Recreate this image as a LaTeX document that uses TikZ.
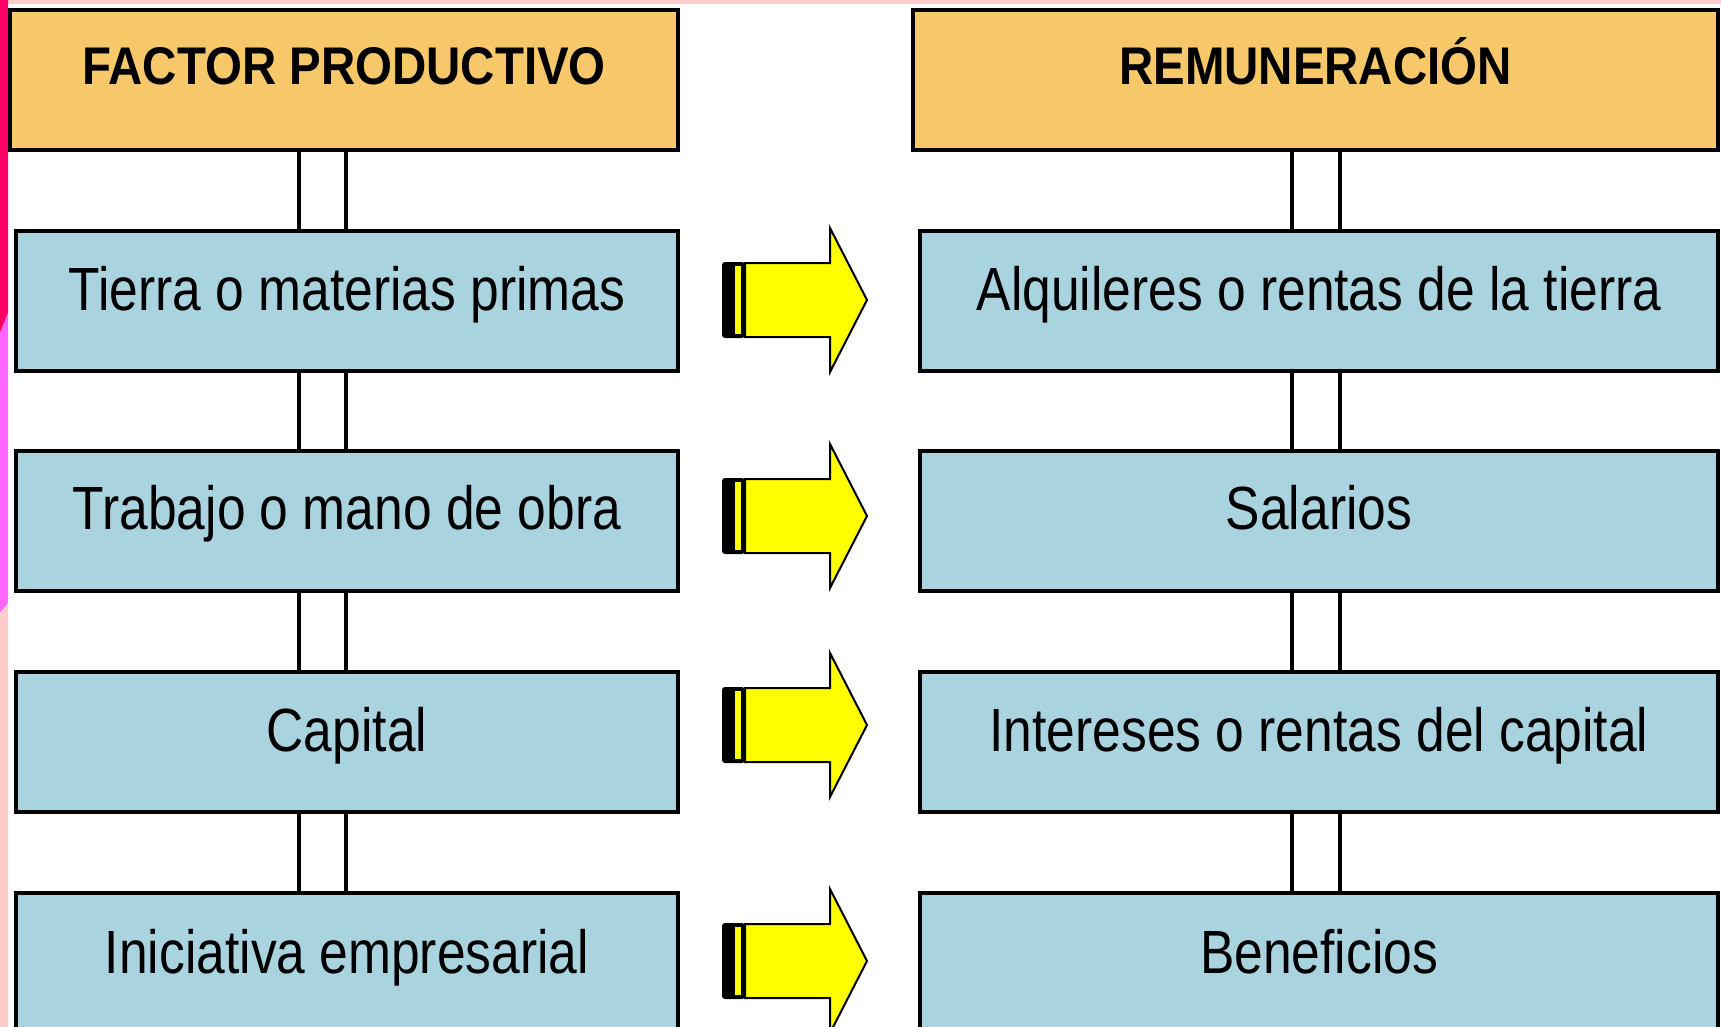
\documentclass[tikz,border=0pt]{standalone}
\usepackage{fontspec}
\setmainfont{Liberation Sans}[FakeStretch=0.845]
\newfontfamily\headfont{Liberation Sans}[FakeStretch=0.895]

\definecolor{headorange}{HTML}{F7C86A}
\definecolor{boxblue}{HTML}{AAD3E0}
\definecolor{deeppink}{HTML}{FF0066}
\definecolor{violetpink}{HTML}{FF66FF}
\definecolor{palepink}{HTML}{FFCCCC}
\definecolor{arrowyellow}{HTML}{FFFF00}

\tikzset{
  head/.style={draw,line width=4pt,fill=headorange,minimum height=140,
    text height=25,text depth=15,font=\headfont\bfseries\fontsize{53}{60}\selectfont},
  factor/.style={draw,line width=4pt,fill=boxblue,minimum width=662,minimum height=140,
    text height=32,text depth=14,font=\fontsize{61}{70}\selectfont},
  pay/.style={factor,minimum width=798},
  link/.style={line width=4pt},
}

\begin{document}
\begin{tikzpicture}[x=1pt,y=-1pt]
            \useasboundingbox (0,0) rectangle (1721,1027);
            \clip (0,0) rectangle (1721,1027);

            \fill[palepink] (0,0) rectangle (1721,4);
            \fill[deeppink] (0,0) -- (8,0) -- (8,313) -- (0,333) -- cycle;
            \fill[violetpink] (0,333) -- (8,313) -- (8,603) -- (0,613) -- cycle;
            \fill[palepink] (0,613) -- (8,603) -- (8,1027) -- (0,1027) -- cycle;

            \node[head,minimum width=668] (hfactor) at (344,80) {FACTOR PRODUCTIVO};
            \node[head,minimum width=805] (hpay) at (1315.5,80) {REMUNERACIÓN};

            \node[factor] (tierra) at (347,301) {Tierra o materias primas};
            \node[factor] (trabajo) at (347,520.5) {Trabajo o mano de obra};
            \node[factor] (capital) at (347,742) {Capital};
            \node[factor,minimum height=142] (iniciativa) at (347,964) {Iniciativa empresarial};

            \node[pay] (alquileres) at (1319,301) {Alquileres o rentas de la tierra};
            \node[pay] (salarios) at (1319,520.5) {Salarios};
            \node[pay] (intereses) at (1319,742) {Intereses o rentas del capital};
            \node[pay,minimum height=142] (beneficios) at (1319,964) {Beneficios};

            \coordinate (lpost1) at (299,0);
            \coordinate (lpost2) at (346,0);
            \coordinate (rpost1) at (1292,0);
            \coordinate (rpost2) at (1340,0);

            \foreach \post in {lpost1,lpost2} {
                \draw[link] (hfactor.south -| \post) -- (tierra.north -| \post);
                \draw[link] (tierra.south -| \post) -- (trabajo.north -| \post);
                \draw[link] (trabajo.south -| \post) -- (capital.north -| \post);
                \draw[link] (capital.south -| \post) -- (iniciativa.north -| \post);
            }
            \foreach \post in {rpost1,rpost2} {
                \draw[link] (hpay.south -| \post) -- (alquileres.north -| \post);
                \draw[link] (alquileres.south -| \post) -- (salarios.north -| \post);
                \draw[link] (salarios.south -| \post) -- (intereses.north -| \post);
                \draw[link] (intereses.south -| \post) -- (beneficios.north -| \post);
            }

            \foreach \y in {300,516,725,961} {
                \filldraw[fill=arrowyellow,line width=2pt,line join=miter]
                    (745,{\y-37}) -- (830,{\y-37}) -- (830,{\y-72}) -- (867,\y)
                    -- (830,{\y+72}) -- (830,{\y+37}) -- (745,{\y+37}) -- cycle;
                \fill[rounded corners=3] (722,{\y-38}) rectangle (745,{\y+38});
                \fill[arrowyellow] (735,{\y-34}) rectangle (741,{\y+34});
            }
\end{tikzpicture}
\end{document}
